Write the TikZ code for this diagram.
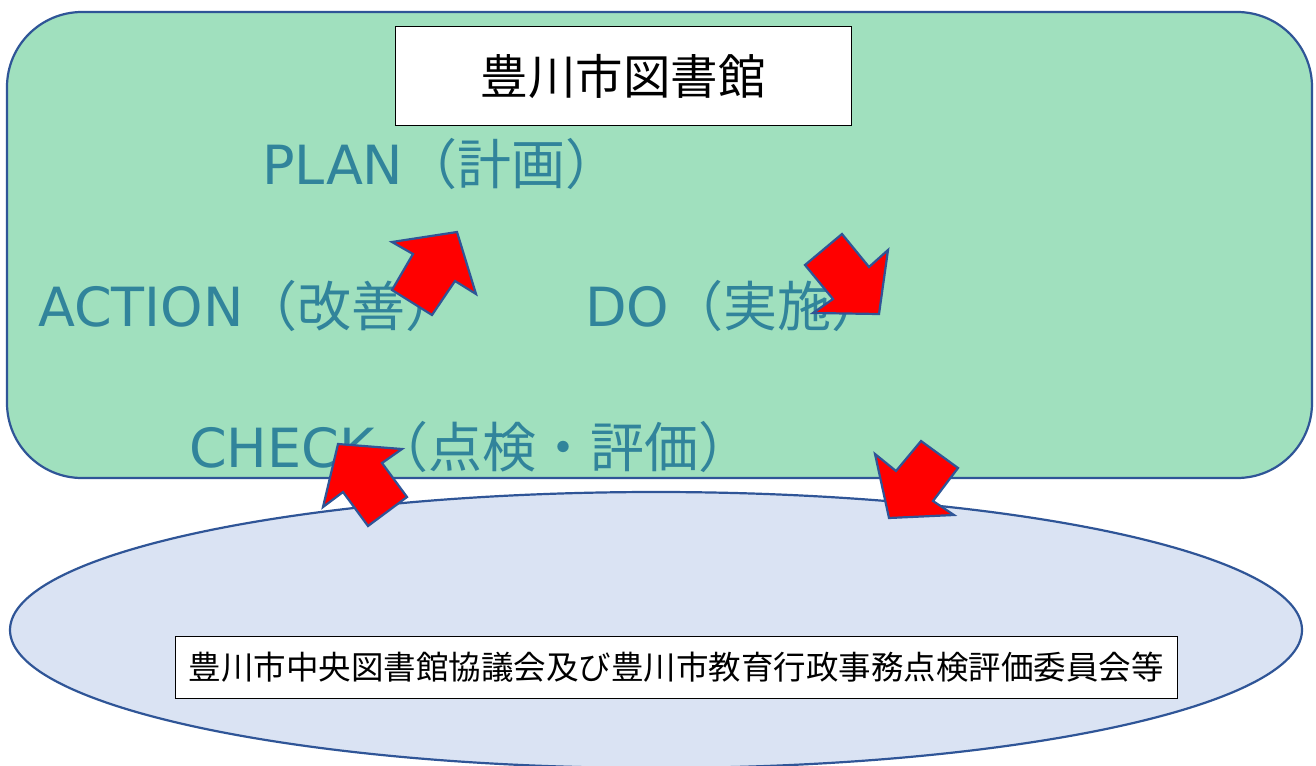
\documentclass[tikz,border=0pt]{standalone}
\usepackage{fontspec}
\setmainfont{Noto Sans CJK JP}
\newfontfamily\cjkf{Noto Sans CJK JP}
\newfontfamily\latf{DejaVu Sans}
\definecolor{pgreen}{HTML}{A0E0BE}
\definecolor{pblue}{HTML}{2F5597}
\definecolor{pteal}{HTML}{31849B}
\definecolor{pell}{HTML}{DAE3F3}
\tikzset{
  label/.style={anchor=west,inner sep=0pt,text=pteal,font=\fontsize{54}{60}\selectfont},
  boxtext/.style={draw=black,fill=white,line width=1pt,inner sep=0pt},
  blockarrow/.style={fill=red,draw=pblue,line width=2.2pt,line join=miter}
}
\begin{document}
\begin{tikzpicture}[x=1pt,y=-1pt]
\useasboundingbox (0,0) rectangle (1316,765);
\fill[white] (0,0) rectangle (1316,765);
% main rounded rectangle
\draw[fill=pgreen,draw=pblue,line width=2.2pt,rounded corners=75pt] (7,12) rectangle (1312,478);
% ellipse
\draw[fill=pell,draw=pblue,line width=2.2pt] (656,630) ellipse [x radius=646, y radius=138];
% labels
\node[label] (plan) at (262,164) {\latf PLAN\cjkf （計画）};
\node[label] (action) at (38,306) {\latf ACTION\cjkf （改善）};
\node[label] (do) at (585,306) {\latf DO\cjkf （実施）};
\node[label] (check) at (189,447) {\latf CHECK\cjkf （点検・評価）};
% title box
\node[boxtext,minimum width=456pt,minimum height=99pt,font=\fontsize{47.5}{52}\selectfont] (lib) at (623,76.5) {豊川市図書館};
% bottom box
\node[boxtext,minimum width=1002pt,minimum height=62pt,font=\fontsize{32.5}{38}\selectfont] (comm) at (676,667) {豊川市中央図書館協議会及び豊川市教育行政事務点検評価委員会等};
% block arrows
\draw[blockarrow] (392,290) -- (413,254) -- (392,242) -- (457,232) -- (476,294) -- (455,281) -- (432,315) -- cycle;
\draw[blockarrow] (842,234) -- (869,267) -- (888,250) -- (879,314) -- (813,313) -- (833,299) -- (805,265) -- cycle;
\draw[blockarrow] (338,444) -- (402,449) -- (382,463) -- (407,497) -- (368,526) -- (343,492) -- (323,507) -- cycle;
\draw[blockarrow] (921,441) -- (958,468) -- (933,501) -- (954,515) -- (889,518) -- (875,454) -- (896,471) -- cycle;
\end{tikzpicture}
\end{document}
